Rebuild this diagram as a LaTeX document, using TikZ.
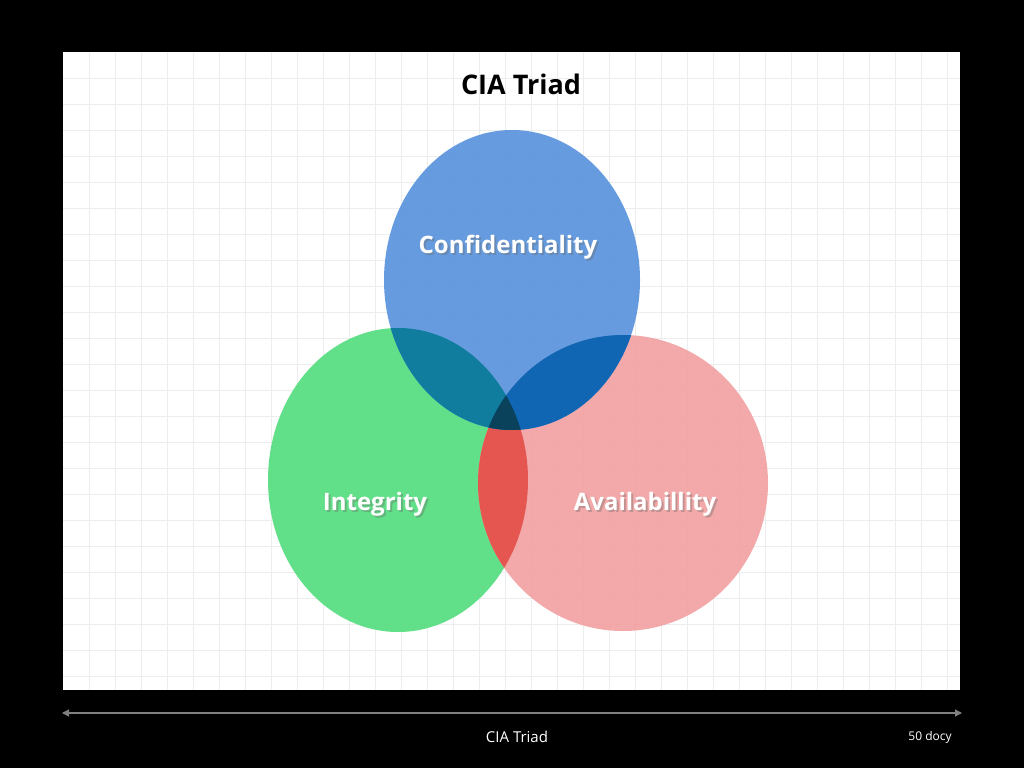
\documentclass[tikz,border=0pt]{standalone}
\usepackage{fontspec}
\setmainfont{Open Sans}
\usetikzlibrary{arrows.meta}
\definecolor{cblue}{HTML}{5A94DD}
\definecolor{cgreen}{HTML}{55DE80}
\definecolor{cred}{HTML}{F2A2A2}
\definecolor{cgb}{HTML}{0A7A9A}
\definecolor{crb}{HTML}{0A62B0}
\definecolor{cgr}{HTML}{E5504A}
\definecolor{cmid}{HTML}{0A4055}
\begin{document}
\begin{tikzpicture}[x=1pt,y=-1pt,
  circ/.style={draw=none,fill opacity=0.92},
  lbl/.style={text=white,font=\bfseries\fontsize{24}{28}\selectfont},
  shadowlbl/.style={text=black!60,opacity=0.35,font=\bfseries\fontsize{24}{28}\selectfont}]
\def\B{(512,280) ellipse [x radius=128,y radius=150]}
\def\G{(398,480) ellipse [x radius=130,y radius=152]}
\def\R{(623,483) ellipse [x radius=145,y radius=148]}
\fill[black] (0,0) rectangle (1024,768);
\useasboundingbox (0,0) rectangle (1024,768);
\fill[white] (63,52) rectangle (960,690);
\foreach \x in {89,115,...,960} \draw[black!7] (\x,52) -- (\x,690);
\foreach \y in {78,104,...,690} \draw[black!7] (63,\y) -- (960,\y);
\fill[circ,cgreen] \G;
\fill[circ,cred] \R;
\fill[circ,cblue] \B;
\begin{scope}\clip \G; \fill[circ,cgr] \R; \end{scope}
\begin{scope}\clip \G; \fill[circ,cgb] \B; \end{scope}
\begin{scope}\clip \R; \fill[circ,crb] \B; \end{scope}
\begin{scope}\clip \R; \clip \G; \fill[circ,cmid] \B; \end{scope}
\node[font=\bfseries\fontsize{27}{32}\selectfont] (title) at (521,84) {CIA Triad};
\node[shadowlbl] at (510,249) {Confidentiality};
\node[lbl] (c) at (508,247) {Confidentiality};
\node[shadowlbl] at (377,506) {Integrity};
\node[lbl] (i) at (375,504) {Integrity};
\node[shadowlbl] at (647,506) {Availabillity};
\node[lbl] (a) at (645,504) {Availabillity};
\coordinate (l) at (62,713);
\coordinate (r) at (962,713);
\draw[gray,line width=1.2pt,{Triangle[width=7pt,length=7pt]}-{Triangle[width=7pt,length=7pt]}] (l) -- (r);
\node[text=white,font=\fontsize{15}{18}\selectfont] (cap) at (517,737) {CIA Triad};
\node[text=white,font=\fontsize{12}{14}\selectfont] (docs) at (930,737) {50 docy};
\end{tikzpicture}
\end{document}
